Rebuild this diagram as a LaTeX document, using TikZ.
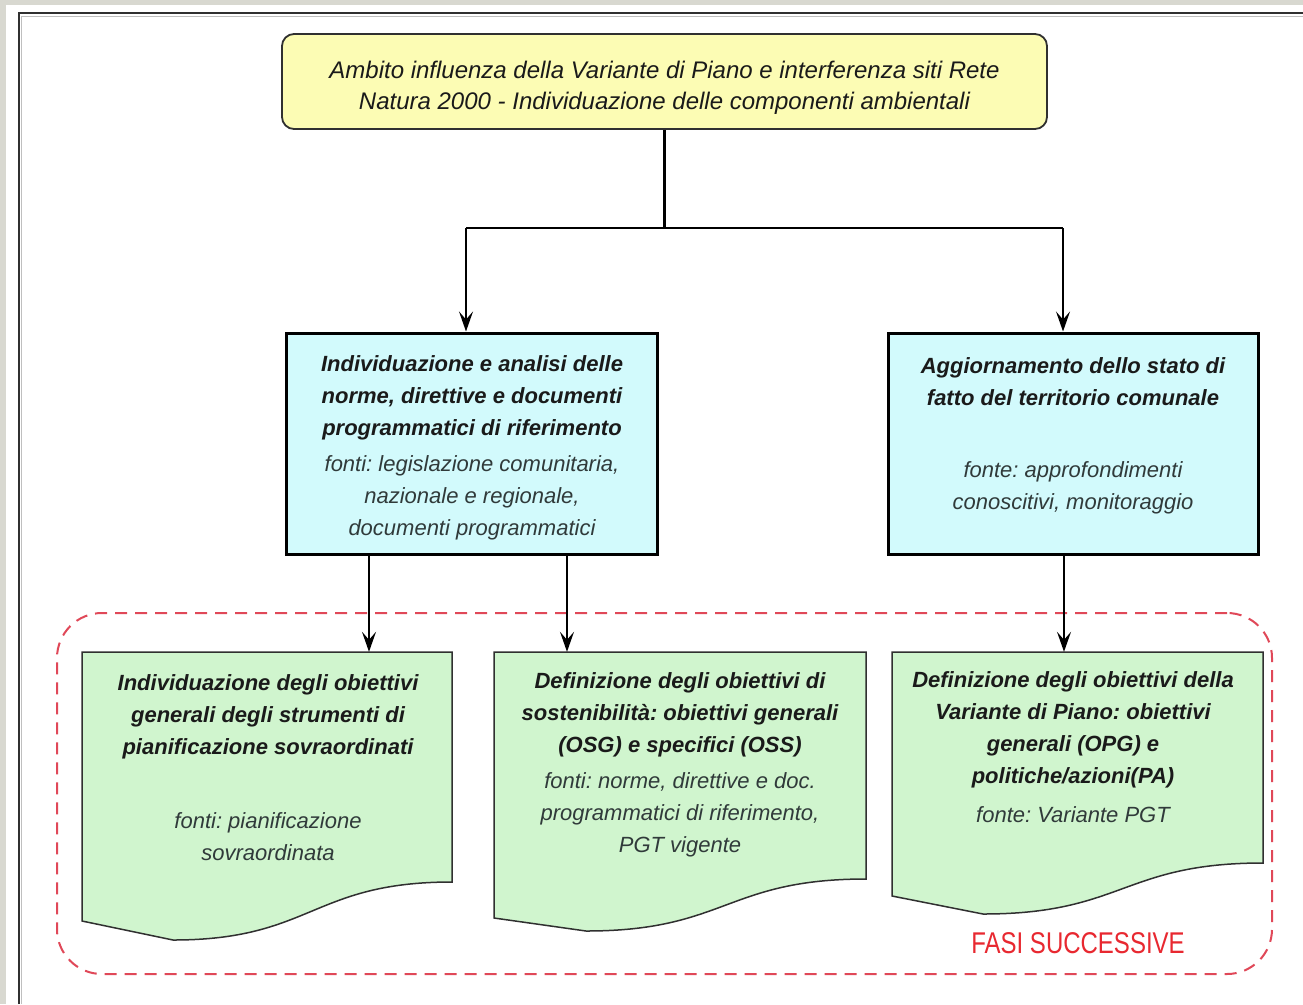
\documentclass[tikz,border=0pt]{standalone}
\usepackage{fontspec}
\setmainfont{Liberation Sans}
\newfontfamily\narrowfont[FakeStretch=0.80]{Liberation Sans}
\usetikzlibrary{arrows.meta}
\definecolor{bggray}{HTML}{D8D8D0}
\definecolor{framecol}{HTML}{303030}
\definecolor{yellowfill}{HTML}{FCFCB4}
\definecolor{cyanfill}{HTML}{D2FAFC}
\definecolor{greenfill}{HTML}{D0F5CE}
\definecolor{titlecol}{HTML}{1A1A1A}
\definecolor{srccol}{HTML}{303A3A}
\definecolor{dashcol}{HTML}{E04858}
\definecolor{fasicol}{HTML}{E82830}
\frenchspacing
\begin{document}
\begin{tikzpicture}[x=1pt,y=-1pt,
  topbox/.style={draw=framecol, line width=1.8pt, fill=yellowfill, rounded corners=12pt, inner sep=0pt},
  bluebox/.style={draw=black, line width=3pt, fill=cyanfill, inner sep=0pt},
  greenanchor/.style={draw=none, inner sep=0pt},
  greendoc/.style={draw=framecol, line width=1.5pt, fill=greenfill, line join=miter},
  phase/.style={draw=dashcol, line width=2pt, dash pattern=on 12pt off 8pt, rounded corners=45pt, inner sep=0pt},
  toptext/.style={font=\itshape\fontsize{24}{31}\selectfont, text=titlecol, align=center, inner sep=0pt},
  boxtitle/.style={font=\bfseries\itshape\fontsize{22}{32}\selectfont, text=titlecol, align=center, inner sep=0pt},
  boxsrc/.style={font=\itshape\fontsize{22}{32}\selectfont, text=srccol, align=center, inner sep=0pt},
  treeline/.style={draw=black, line width=2.5pt},
  arr/.style={draw=black, line width=1.8pt, -{Stealth[length=20pt,width=14pt,inset=8pt]}},
  fasitext/.style={font=\narrowfont\fontsize{30}{32}\selectfont, text=fasicol, inner sep=0pt}
]
\useasboundingbox (0,0) rectangle (1303,1004);
% background and frame
\fill[bggray] (0,0) rectangle (1303,1004);
\fill[white] (6,5) rectangle (1303,1004);
\draw[gray!50, line width=1pt] (21,1004) -- (21,16) -- (1303,16);
\draw[framecol, line width=2pt] (19,1004) -- (19,13) -- (1303,13);

% dashed phase frame
\node[phase, minimum width=1215pt, minimum height=361pt] (fasi) at (664.5,793.5) {};
\node[fasitext] (fasilabel) at (1078,943) {FASI SUCCESSIVE};

% top box
\node[topbox, minimum width=765pt, minimum height=95pt] (top) at (664.5,81.5) {};
\node[toptext] (toptxt) at (664.5,88) {Ambito influenza della Variante di Piano e interferenza siti Rete\\Natura 2000 - Individuazione delle componenti ambientali};

% blue boxes
\node[bluebox, minimum width=371pt, minimum height=221pt] (b1) at (471.5,443.5) {};
\node[boxtitle] (b1t) at (472,398) {Individuazione e analisi delle\\norme, direttive e documenti\\programmatici di riferimento};
\node[boxsrc] (b1s) at (472,498) {fonti: legislazione comunitaria,\\nazionale e regionale,\\documenti programmatici};

\node[bluebox, minimum width=370pt, minimum height=221pt] (b2) at (1073,443.5) {};
\node[boxtitle] (b2t) at (1073,382) {Aggiornamento dello stato di\\fatto del territorio comunale};
\node[boxsrc] (b2s) at (1073,487.5) {fonte: approfondimenti\\conoscitivi, monitoraggio};

% green document boxes
\filldraw[greendoc] (82,652) -- (452,652) -- (452,882) .. controls (312,882) and (312,940) .. (173,940) -- (82,921) -- cycle;
\node[greenanchor, minimum width=370pt, minimum height=230pt] (g1) at (267,767) {};
\node[boxtitle] (g1t) at (268,716.5) {Individuazione degli obiettivi\\generali degli strumenti di\\pianificazione sovraordinati};
\node[boxsrc] (g1s) at (268,837) {fonti: pianificazione\\sovraordinata};

\filldraw[greendoc] (494,652) -- (866,652) -- (866,879) .. controls (726,879) and (726,931) .. (586,931) -- (494,918) -- cycle;
\node[greenanchor, minimum width=372pt, minimum height=227pt] (g2) at (680,765.5) {};
\node[boxtitle] (g2t) at (680,715) {Definizione degli obiettivi di\\sostenibilità: obiettivi generali\\(OSG) e specifici (OSS)};
\node[boxsrc] (g2s) at (680,814.5) {fonti: norme, direttive e doc.\\programmatici di riferimento,\\PGT vigente};

\filldraw[greendoc] (892,652) -- (1263,652) -- (1263,863) .. controls (1123,863) and (1123,914) .. (983,914) -- (892,896) -- cycle;
\node[greenanchor, minimum width=371pt, minimum height=211pt] (g3) at (1077.5,757.5) {};
\node[boxtitle] (g3t) at (1073,730) {Definizione degli obiettivi della\\Variante di Piano: obiettivi\\generali (OPG) e\\politiche/azioni(PA)};
\node[boxsrc] (g3s) at (1073,815) {fonte: Variante PGT};

% connectors
\coordinate (hl) at (466,228);
\coordinate (hr) at (1063,228);
\coordinate (xa) at (369,0);
\coordinate (xb) at (567,0);
\coordinate (xc) at (1064,0);
\draw[treeline] (top.south) -- (top.south |- hl);
\draw[treeline] (hl) -- (hr);
\draw[arr] (hl) -- (hl |- b1.north);
\draw[arr] (hr) -- (hr |- b2.north);
\draw[arr] (b1.south -| xa) -- (g1.north -| xa);
\draw[arr] (b1.south -| xb) -- (g2.north -| xb);
\draw[arr] (b2.south -| xc) -- (g3.north -| xc);
\end{tikzpicture}
\end{document}
